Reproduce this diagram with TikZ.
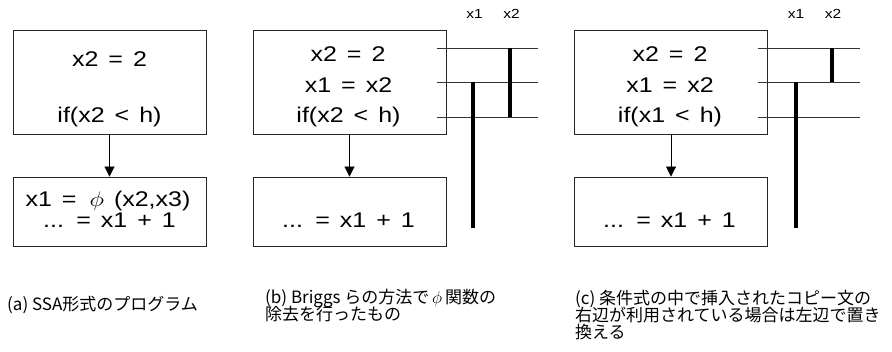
\documentclass[tikz,border=0pt]{standalone}
\usepackage{fontspec}
\setmainfont{Liberation Sans}
\newfontfamily\jp{Noto Sans CJK JP}
\usetikzlibrary{arrows.meta}
\newcommand{\sqz}[1]{\scalebox{1}[0.85]{\spaceskip=10pt\relax #1}}
\begin{document}
\begin{tikzpicture}[x=1pt,y=-1pt,
  box/.style={draw=black!85, line width=0.9pt, inner sep=0pt, minimum width=193pt},
  code/.style={anchor=base, inner sep=0pt, font=\fontsize{25}{30}\selectfont},
  lbl/.style={anchor=base, inner sep=0pt, font=\fontsize{15.5}{17}\selectfont},
  captext/.style={anchor=base west, inner sep=0pt, font=\jp\fontsize{17}{20}\selectfont},
  hl/.style={draw=black!80, line width=0.9pt},
  bar/.style={draw=black, line width=4pt},
  flow/.style={draw=black, line width=0.9pt, -{Triangle[width=10pt,length=10pt]}}]
\path[use as bounding box] (0,0) rectangle (892,352);

% ---------- panel (a)
\node[box, minimum height=104pt] (a1) at (109.5,82) {};
\node[box, minimum height=69pt] (a2) at (109.5,211.5) {};
\draw[flow] (a1) -- (a2);
\node[code] (a1t1) at (109.5,67) {\sqz{x2 = 2}};
\node[code] (a1t2) at (109.5,123) {\sqz{if(x2 < h)}};
\node[code] (a2t1) at (108,207) {\sqz{x1 = \hspace{3pt}$\phi$ (x2,x3)}};
\node[code] (a2t2) at (109.5,228) {\sqz{... = x1 + 1}};

% ---------- panel (b)
\node[box, minimum height=104pt] (b1) at (349.5,82) {};
\node[box, minimum height=69pt] (b2) at (349.5,211.5) {};
\draw[flow] (b1) -- (b2);
\node[code] (b1t1) at (348,62) {\sqz{x2 = 2}};
\node[code] (b1t2) at (348.5,93) {\sqz{x1 = x2}};
\node[code] (b1t3) at (348.5,123) {\sqz{if(x2 < h)}};
\node[code] (b2t1) at (348.5,228) {\sqz{... = x1 + 1}};
\coordinate (bl1w) at (437,48);  \coordinate (bl1e) at (538,48);
\coordinate (bl2w) at (437,82);  \coordinate (bl2e) at (538,82);
\coordinate (bl3w) at (437,117); \coordinate (bl3e) at (538,117);
\draw[hl] (bl1w) -- (bl1e);
\draw[hl] (bl2w) -- (bl2e);
\draw[hl] (bl3w) -- (bl3e);
\coordinate (bx1t) at (473,82);  \coordinate (bx1b) at (473,228);
\coordinate (bx2t) at (510,48);  \coordinate (bx2b) at (510,117);
\draw[bar] (bx1t) -- (bx1b);
\draw[bar] (bx2t) -- (bx2b);
\node[lbl] (bx1) at (474.5,18.5) {\scalebox{1}[0.85]{x1}};
\node[lbl] (bx2) at (511.5,18.5) {\scalebox{1}[0.85]{x2}};

% ---------- panel (c)
\node[box, minimum height=104pt] (c1) at (671,82) {};
\node[box, minimum height=69pt] (c2) at (671,211.5) {};
\draw[flow] (c1) -- (c2);
\node[code] (c1t1) at (670,62) {\sqz{x2 = 2}};
\node[code] (c1t2) at (670,93) {\sqz{x1 = x2}};
\node[code] (c1t3) at (670,123) {\sqz{if(x1 < h)}};
\node[code] (c2t1) at (669.5,228) {\sqz{... = x1 + 1}};
\coordinate (cl1w) at (758,48);  \coordinate (cl1e) at (860,48);
\coordinate (cl2w) at (758,82);  \coordinate (cl2e) at (860,82);
\coordinate (cl3w) at (758,117); \coordinate (cl3e) at (860,117);
\draw[hl] (cl1w) -- (cl1e);
\draw[hl] (cl2w) -- (cl2e);
\draw[hl] (cl3w) -- (cl3e);
\coordinate (cx1t) at (796,82);  \coordinate (cx1b) at (796,228);
\coordinate (cx2t) at (832,48);  \coordinate (cx2b) at (832,82);
\draw[bar] (cx1t) -- (cx1b);
\draw[bar] (cx2t) -- (cx2b);
\node[lbl] (cx1) at (796,18.5) {\scalebox{1}[0.85]{x1}};
\node[lbl] (cx2) at (833,18.5) {\scalebox{1}[0.85]{x2}};

% ---------- captions
\node[captext] (capa) at (7,311) {(a) SSA形式のプログラム};
\node[captext] (capb1) at (265,304) {(b) Briggs らの方法で\,$\phi$\,関数の};
\node[captext] (capb2) at (265,321) {除去を行ったもの};
\node[captext] (capc1) at (575,305) {(c) 条件式の中で挿入されたコピー文の};
\node[captext] (capc2) at (575,322) {右辺が利用されている場合は左辺で置き};
\node[captext] (capc3) at (575,339) {換える};
\end{tikzpicture}
\end{document}
